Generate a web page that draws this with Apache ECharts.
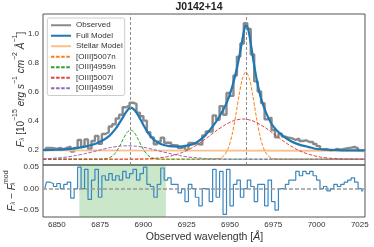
<!DOCTYPE html>
<html><head><meta charset="utf-8">
<script src="https://cdn.jsdelivr.net/npm/echarts@6/dist/echarts.min.js"></script>
<style>html,body{margin:0;padding:0;background:#fff}#c{width:374px;height:247px}</style>
</head><body><div id="c"></div>
<script>
// ---- data ----
const obsWave = [6843,6845,6847,6849,6851,6853,6855,6857,6859,6861,6863,6865,6867,6869,6871,6873,6875,6877,6879,6881,6883,6885,6887,6889,6891,6893,6895,6897,6899,6901,6903,6905,6907,6909,6911,6913,6915,6917,6919,6921,6923,6925,6927,6929,6931,6933,6935,6937,6939,6941,6943,6945,6947,6949,6951,6953,6955,6957,6959,6961,6963,6965,6967,6969,6971,6973,6975,6977,6979,6981,6983,6985,6987,6989,6991,6993,6995,6997,6999,7001,7003,7005,7007,7009,7011,7013,7015,7017,7019,7021,7023,7025,7027];
const observed = [0.197,0.213,0.211,0.205,0.213,0.203,0.214,0.221,0.187,0.213,0.267,0.220,0.271,0.207,0.260,0.295,0.240,0.308,0.320,0.360,0.375,0.415,0.440,0.492,0.503,0.523,0.515,0.455,0.430,0.400,0.320,0.285,0.238,0.255,0.283,0.248,0.249,0.231,0.230,0.211,0.224,0.199,0.246,0.245,0.238,0.235,0.298,0.325,0.325,0.435,0.405,0.50,0.44,0.59,0.57,0.71,0.84,0.93,1.07,1.03,0.855,0.67,0.60,0.52,0.41,0.42,0.335,0.285,0.31,0.29,0.282,0.278,0.267,0.277,0.26,0.264,0.253,0.253,0.239,0.225,0.202,0.205,0.193,0.197,0.206,0.20,0.205,0.21,0.214,0.219,0.209,0.194,0.189];
const residual = [0.0,0.015,0.012,0.005,0.012,0.0,0.01,0.015,-0.022,0.0,0.05,0.0,0.045,-0.025,0.02,0.045,-0.02,0.03,0.02,0.035,0.02,0.03,0.02,0.04,0.025,0.035,0.045,0.02,0.035,0.05,0.01,0.005,-0.02,0.01,0.048,0.02,0.025,0.01,0.01,-0.01,0.0,-0.03,0.01,0.0,-0.02,-0.04,0.0,0.0,-0.03,0.045,-0.02,0.04,-0.06,0.045,-0.04,0.01,0.02,-0.02,0.0,0.02,0.005,-0.03,0.01,0.01,-0.04,0.02,-0.03,-0.05,0.0,0.0,0.01,0.02,0.02,0.04,0.03,0.04,0.035,0.04,0.03,0.02,0.0,0.005,-0.005,0.0,0.01,0.005,0.01,0.015,0.02,0.025,0.015,0.0,-0.005];

const fullWave = [6842,6850,6858,6865,6870,6875,6880,6884,6887,6889,6891,6892.6,6894,6896,6898,6900,6903,6906,6910,6915,6920,6925,6930,6935,6940,6944,6948,6951,6954,6956,6958,6959.2,6960.5,6962,6964,6966,6968,6971,6975,6980,6985,6990,6995,7000,7005,7010,7015,7020,7028];
const fullModel = [0.197,0.200,0.206,0.218,0.232,0.255,0.292,0.345,0.40,0.44,0.475,0.489,0.482,0.455,0.415,0.37,0.31,0.27,0.24,0.225,0.222,0.228,0.245,0.29,0.36,0.43,0.52,0.62,0.76,0.88,1.01,1.057,1.03,0.93,0.78,0.65,0.55,0.45,0.36,0.30,0.26,0.235,0.22,0.205,0.2,0.198,0.196,0.195,0.195];

const stellarWave = [6842,6935,7028];
const stellarModel = [0.195,0.194,0.193];

const n5007Wave = [6842,6935,6941.2,6943.2,6945.2,6947.2,6949.2,6951.2,6953.2,6955.2,6957.2,6959.2,6961.2,6963.2,6965.2,6967.2,6969.2,6971.2,6973.2,6975.2,6977.2,6985,7028];
const n5007 = [0.135,0.135,0.136,0.139,0.147,0.169,0.216,0.302,0.427,0.571,0.689,0.735,0.689,0.571,0.427,0.302,0.216,0.169,0.147,0.139,0.136,0.135,0.135];

const n4959Wave = [6842,6874.6,6876.6,6878.6,6880.6,6882.6,6884.6,6886.6,6888.6,6890.6,6892.6,6894.6,6896.6,6898.6,6900.6,6902.6,6904.6,6906.6,6908.6,6912,7028];
const n4959 = [0.135,0.135,0.136,0.139,0.146,0.162,0.191,0.232,0.280,0.320,0.335,0.320,0.280,0.232,0.191,0.162,0.146,0.139,0.136,0.135,0.135];

const i5007Wave = [6842,6887.5,6897.5,6902.5,6907.5,6912.5,6917.5,6922.5,6927.5,6932.5,6937.5,6942.5,6947.5,6952.5,6957.5,6962.5,6967.5,6972.5,6977.5,6982.5,6987.5,6992.5,6997.5,7002.5,7007.5,7012.5,7017.5,7028];
const i5007 = [0.135,0.135,0.136,0.138,0.142,0.149,0.162,0.181,0.209,0.246,0.289,0.334,0.373,0.401,0.411,0.401,0.373,0.334,0.289,0.246,0.209,0.181,0.162,0.149,0.142,0.138,0.136,0.135];

const i4959Wave = [6842,6845.9,6850.9,6855.9,6860.9,6865.9,6870.9,6875.9,6880.9,6885.9,6890.9,6895.9,6900.9,6905.9,6910.9,6915.9,6920.9,6925.9,6930.9,6935.9,6940.9,6945.9,6955,7028];
const i4959 = [0.138,0.140,0.144,0.150,0.160,0.172,0.186,0.201,0.215,0.224,0.227,0.224,0.215,0.201,0.186,0.172,0.160,0.150,0.144,0.140,0.137,0.136,0.135,0.135];

const lineCenters = [6892.6, 6959.2];
const fitWindow = [6863, 6913];
const xTicks = [6850,6875,6900,6925,6950,6975,7000,7025];
const yTicksTop = [0.2,0.4,0.6,0.8,1.0];
const yTicksRes = [-0.05,0,0.05];

// ---- chart ----
const FONT = '"Liberation Sans", Arial, sans-serif';
const zip = (a,b) => a.map((x,i)=>[x,b[i]]);
const chart = echarts.init(document.getElementById('c'), null, {renderer:'canvas'});
const dash = [3.5,1.6];
const lbl = {fontSize:8, color:'#333', fontFamily:FONT};
const yLabelRich = {
  n:{fontSize:10, lineHeight:14, verticalAlign:'bottom', fontFamily:FONT, fill:'#333', color:'#333'},
  i:{fontSize:10, lineHeight:14, verticalAlign:'bottom', fontStyle:'italic', fontFamily:FONT, fill:'#333', color:'#333'},
  sup:{fontSize:7, lineHeight:9, verticalAlign:'top', fontFamily:FONT, fill:'#333', color:'#333'},
  sub:{fontSize:7, lineHeight:8, verticalAlign:'bottom', fontStyle:'italic', fontFamily:FONT, fill:'#333', color:'#333'},
  subz:{fontSize:7, lineHeight:8, verticalAlign:'bottom', width:0.1, fontStyle:'italic', fontFamily:FONT, fill:'#333', color:'#333'}
};
const option = {
  animation:false,
  backgroundColor:'#fff',
  grid:[
    {left:43, right:9, top:14, height:151, show:true, borderColor:'#555', borderWidth:1},
    {left:43, right:9, top:165, height:52, show:true, borderColor:'#555', borderWidth:1}
  ],
  xAxis:[
    {gridIndex:0, type:'value', min:6842, max:7028, axisLine:{show:false}, axisTick:{show:false}, axisLabel:{show:false}, splitLine:{show:false}},
    {gridIndex:1, type:'value', min:6842, max:7028, axisLine:{show:false}, axisTick:{show:false}, splitLine:{show:false},
     axisLabel:Object.assign({customValues:xTicks, margin:4, formatter:v=>String(v)}, lbl)}
  ],
  yAxis:[
    {gridIndex:0, type:'value', min:0.095, max:1.133, axisLine:{show:false}, axisTick:{show:false}, splitLine:{show:false},
     axisLabel:Object.assign({customValues:yTicksTop, margin:4, formatter:v=>v.toFixed(1)}, lbl)},
    {gridIndex:1, type:'value', min:-0.066, max:0.055, axisLine:{show:false}, axisTick:{show:false}, splitLine:{show:false},
     axisLabel:Object.assign({customValues:yTicksRes, margin:4, formatter:v=>(v<0?'\u2212':'')+Math.abs(v).toFixed(2)}, lbl)}
  ],
  legend:{
    orient:'vertical', left:47.3, top:18, padding:[2,2,2,2.7],
    itemWidth:20, itemHeight:11, itemGap:0,
    itemStyle:{color:'rgba(0,0,0,0)', borderColor:'rgba(0,0,0,0)', borderWidth:0, opacity:0},
    backgroundColor:'rgba(255,255,255,0.85)', borderColor:'#ccc', borderWidth:1, borderRadius:2,
    textStyle:{fontSize:8, color:'#333', fontFamily:FONT, lineHeight:10.5},
    data:['Observed','Full Model','Stellar Model','[OIII]5007n','[OIII]4959n','[OIII]5007i','[OIII]4959i']
  },
  series:[
    {name:'Observed', type:'line', xAxisIndex:0, yAxisIndex:0, step:'middle', symbol:'none', z:2,
     data:zip(obsWave, observed), lineStyle:{color:'#8a8a8a', width:2.4}, itemStyle:{color:'#8a8a8a'}},
    {name:'Full Model', type:'line', xAxisIndex:0, yAxisIndex:0, smooth:0.3, symbol:'none', z:3,
     data:zip(fullWave, fullModel), lineStyle:{color:'#1f77b4', width:2.2}, itemStyle:{color:'#1f77b4'}},
    {name:'Stellar Model', type:'line', xAxisIndex:0, yAxisIndex:0, symbol:'none', z:2,
     data:zip(stellarWave, stellarModel), lineStyle:{color:'#f9c08c', width:1.8}, itemStyle:{color:'#f9c08c'}},
    {name:'[OIII]5007n', type:'line', xAxisIndex:0, yAxisIndex:0, smooth:0.3, symbol:'none', z:4,
     data:zip(n5007Wave, n5007), lineStyle:{color:'#ff7f0e', width:1, type:dash}, itemStyle:{color:'#ff7f0e'}},
    {name:'[OIII]4959n', type:'line', xAxisIndex:0, yAxisIndex:0, smooth:0.3, symbol:'none', z:4,
     data:zip(n4959Wave, n4959), lineStyle:{color:'#2ca02c', width:1, type:dash}, itemStyle:{color:'#2ca02c'}},
    {name:'[OIII]5007i', type:'line', xAxisIndex:0, yAxisIndex:0, smooth:0.3, symbol:'none', z:4,
     data:zip(i5007Wave, i5007), lineStyle:{color:'#d62728', width:1, type:dash, opacity:0.85}, itemStyle:{color:'#d62728'}},
    {name:'[OIII]4959i', type:'line', xAxisIndex:0, yAxisIndex:0, smooth:0.3, symbol:'none', z:4,
     data:zip(i4959Wave, i4959), lineStyle:{color:'#9467bd', width:1, type:dash}, itemStyle:{color:'#9467bd'},
     markLine:{silent:true, symbol:'none', label:{show:false}, lineStyle:{color:'#8c8c8c', type:[3,2], width:1},
       data:lineCenters.map(v=>({xAxis:v}))}},
    {name:'Residual', type:'line', xAxisIndex:1, yAxisIndex:1, step:'middle', symbol:'none', z:3,
     data:zip(obsWave, residual), lineStyle:{color:'#3a87c0', width:1.2}, itemStyle:{color:'#3a87c0'},
     markArea:{silent:true, itemStyle:{color:'rgba(44,160,44,0.25)'}, data:[[{xAxis:fitWindow[0]},{xAxis:fitWindow[1]}]]},
     markLine:{silent:true, symbol:'none', label:{show:false}, lineStyle:{color:'#999', type:[4,2], width:1.5}, data:[{yAxis:0}]}}
  ],
  graphic:[
    {type:'text', x:199, y:7.5, style:{text:'J0142+14', fontSize:10.5, fontWeight:'bold', fontFamily:FONT, fill:'#222', align:'center', verticalAlign:'middle'}},
    {type:'text', x:204.5, y:236.7, style:{text:'{n|Observed wavelength [}{i|Å}{n|]}', fontFamily:FONT, fill:'#333', align:'center', verticalAlign:'middle',
      rich:{n:{fontSize:10.5, fontFamily:FONT, fill:'#333', color:'#333'}, i:{fontSize:10.5, fontStyle:'italic', fontFamily:FONT, fill:'#333', color:'#333'}}}},
    {type:'text', x:19, y:89.5, rotation:Math.PI/2, style:{text:'{i|F}{sub|λ}{n| [10}{sup|\u221215}{n| }{i|erg s}{sup|\u22121}{n| }{i|cm}{sup|\u22122}{n| }{i|Å}{sup|\u22121}{n|]}',
      fontFamily:FONT, fill:'#333', align:'center', verticalAlign:'middle', rich:yLabelRich}},
    {type:'text', x:10, y:190.8, rotation:Math.PI/2, style:{text:'{i|F}{sub|λ}{n| \u2212 }{i|F}{subz|λ}{sup|mod}',
      fontFamily:FONT, fill:'#333', align:'center', verticalAlign:'middle', rich:yLabelRich}}
  ]
};
chart.setOption(option);
</script></body></html>
